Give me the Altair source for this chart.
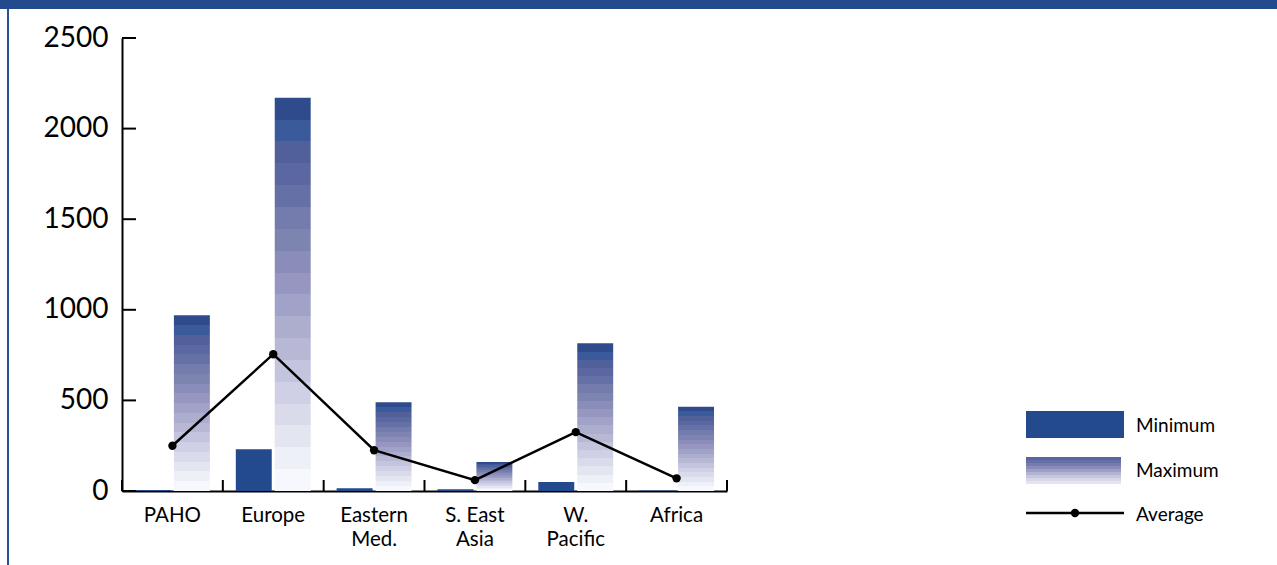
import altair as alt
import pandas as pd

# Regional figures (min / max / average) per WHO region
regions = ["PAHO", "Europe", "Eastern\nMed.", "S. East\nAsia", "W.\nPacific", "Africa"]
minimum = [5, 230, 15, 10, 50, 3]
maximum = [970, 2170, 490, 160, 815, 465]
average = [250, 755, 225, 60, 325, 70]
y_ticks = [0, 500, 1000, 1500, 2000, 2500]
series = ["Minimum", "Maximum"]
legend_labels = ["Minimum", "Maximum", "Average"]

# Styling
FONT = "Lato"
NAVY = "#234a8c"
BORDER = "#2d4f98"
max_steps = ["#2f4b8c", "#3b5a9b", "#52609a", "#5a67a1", "#6570a6", "#737cad",
             "#7d84b0", "#8a8cba", "#9696c1", "#a0a2c7", "#adaecd", "#b8b8d5",
             "#c3c4dd", "#cfcfe5", "#d9dbea", "#e3e5f0", "#eef0f7", "#f6f8fd"]
legend_steps = ["#5a66a1", "#6570a6", "#737cad", "#8a8cba", "#9f9fc6",
                "#b3b3d2", "#c6c6df", "#d6d7e9", "#e3e4f0"]


def stepped_gradient(colors):
    n = len(colors)
    stops = []
    for k, c in enumerate(colors):
        stops.append(alt.GradientStop(color=c, offset=k / n))
        stops.append(alt.GradientStop(color=c, offset=(k + 1) / n))
    return alt.LinearGradient(gradient="linear", stops=stops, x1=0, x2=0, y1=0, y2=1)


min_df = pd.DataFrame({"region": regions, "series": "Minimum", "value": minimum})
max_df = pd.DataFrame({"region": regions, "series": "Maximum", "value": maximum})
avg_df = pd.DataFrame({"region": regions, "value": average})
tick_df = pd.DataFrame({"tick": y_ticks})

W, H = 605, 453

x_enc = alt.X(
    "region:N", sort=regions, title=None,
    scale=alt.Scale(domain=regions, paddingInner=0, paddingOuter=0),
    axis=alt.Axis(
        ticks=False, domainColor="black", domainWidth=2, labelAngle=0,
        labelFont=FONT, labelFontSize=20.5, labelColor="black",
        labelPadding=14, labelLineHeight=24, labelBaseline="top",
        labelExpr="split(datum.label, '\\n')",
    ),
)
y_scale = alt.Scale(domain=[0, 2500], nice=False)
y_enc = alt.Y(
    "value:Q", scale=y_scale, title=None,
    axis=alt.Axis(
        values=y_ticks, format="d", ticks=False, grid=False,
        domainColor="black", domainWidth=2,
        labelFont=FONT, labelFontSize=28, labelColor="black", labelPadding=14,
    ),
)
off_enc = alt.XOffset(
    "series:N", sort=series,
    scale=alt.Scale(domain=series, paddingInner=0.077, paddingOuter=0.333),
)

min_bars = alt.Chart(min_df).mark_bar(color=NAVY).encode(x=x_enc, y=y_enc, xOffset=off_enc)
max_bars = alt.Chart(max_df).mark_bar(color=stepped_gradient(max_steps)).encode(
    x=x_enc, y=y_enc, xOffset=off_enc
)

avg_line = alt.Chart(avg_df).mark_line(color="black", strokeWidth=2.5).encode(
    x=alt.X("region:N", sort=regions), y=alt.Y("value:Q", scale=y_scale)
)
avg_pts = alt.Chart(avg_df).mark_point(filled=True, color="black", size=70, opacity=1).encode(
    x=alt.X("region:N", sort=regions), y=alt.Y("value:Q", scale=y_scale)
)

# inward ticks on both axes
y_tick_marks = alt.Chart(tick_df).mark_rule(color="black", strokeWidth=2).encode(
    y=alt.Y("tick:Q", scale=y_scale), x=alt.value(0), x2=alt.value(14)
)
x_tick_marks = alt.Chart(min_df).mark_rule(color="black", strokeWidth=2).encode(
    x=alt.X("region:N", sort=regions, bandPosition=0), y=alt.value(H - 11), y2=alt.value(H)
)
x_end_tick = alt.Chart(min_df.head(1)).mark_rule(color="black", strokeWidth=2).encode(
    x=alt.value(W), y=alt.value(H - 11), y2=alt.value(H)
)

# page frame: header band and left border
header = alt.Chart(min_df.head(1)).mark_rect(color=NAVY).encode(
    x=alt.value(-122), x2=alt.value(1277 - 122), y=alt.value(-38), y2=alt.value(-29)
)
left_border = alt.Chart(min_df.head(1)).mark_rule(color=BORDER, strokeWidth=2).encode(
    x=alt.value(-114), y=alt.value(-29), y2=alt.value(565 - 38)
)

# legend
LX = 1026 - 122
leg_min = alt.Chart(min_df.head(1)).mark_rect(color=NAVY).encode(
    x=alt.value(LX), x2=alt.value(LX + 98), y=alt.value(373), y2=alt.value(400)
)
leg_max = alt.Chart(min_df.head(1)).mark_rect(color=stepped_gradient(legend_steps)).encode(
    x=alt.value(LX), x2=alt.value(LX + 95), y=alt.value(419), y2=alt.value(446)
)
leg_line = alt.Chart(min_df.head(1)).mark_rule(color="black", strokeWidth=2.5).encode(
    x=alt.value(LX), x2=alt.value(LX + 98), y=alt.value(475)
)
leg_dot = alt.Chart(min_df.head(1)).mark_point(filled=True, color="black", size=70, opacity=1).encode(
    x=alt.value(LX + 49), y=alt.value(475)
)
leg_texts = [
    alt.Chart(min_df.head(1)).mark_text(
        text=lab, font=FONT, fontSize=19, color="black", align="left", baseline="middle"
    ).encode(x=alt.value(LX + 110), y=alt.value(yy))
    for lab, yy in zip(legend_labels, [388, 433, 477])
]

chart = alt.layer(
    header, left_border,
    max_bars, min_bars, avg_line, avg_pts,
    y_tick_marks, x_tick_marks, x_end_tick,
    leg_min, leg_max, leg_line, leg_dot, *leg_texts,
).properties(
    width=W, height=H,
    autosize=alt.AutoSizeParams(type="none"),
    padding={"left": 122, "top": 38, "right": 1277 - 122 - W, "bottom": 565 - 38 - H},
    background="white",
).configure_view(stroke=None)

chart.save("out.html", embed_options={"renderer": "svg", "actions": False})
